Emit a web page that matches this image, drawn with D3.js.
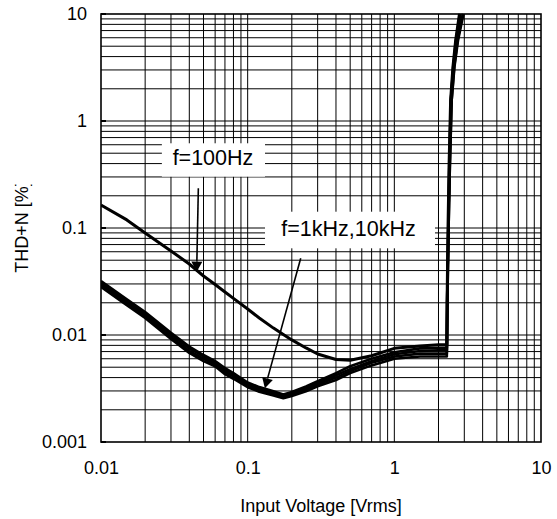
<!DOCTYPE html>
<html>
<head>
<meta charset="utf-8">
<script src="https://cdn.jsdelivr.net/npm/d3@7"></script>
<style>
  body { margin: 0; background: #fff; }
  svg { display: block; }
  text { font-family: "Liberation Sans", Arial, sans-serif; fill: #000; }
</style>
</head>
<body>
<svg id="chart" width="557" height="519"></svg>
<script>
// Input voltage (Vrms) for the low-level part of every sweep
const voltage = [0.01, 0.015, 0.02, 0.03, 0.04, 0.05, 0.06, 0.07, 0.08, 0.1, 0.12, 0.15, 0.175, 0.2, 0.25, 0.3, 0.4, 0.5, 0.7, 1, 1.5, 2, 2.28];

// THD+N (%) at each voltage point
const thd100Hz  = [0.164, 0.119, 0.0898, 0.061, 0.0461, 0.0356, 0.0296, 0.0252, 0.022, 0.0175, 0.0144, 0.0116, 0.0101, 0.009, 0.00757, 0.00664, 0.0059, 0.0058, 0.0064, 0.0075, 0.0079, 0.0081, 0.0081];
const thd1kHzA  = [0.032, 0.0216, 0.0164, 0.0105, 0.0078, 0.0065, 0.0057, 0.0049, 0.0044, 0.0036, 0.00326, 0.00298, 0.00278, 0.00294, 0.0033, 0.0037, 0.0044, 0.0051, 0.006, 0.0069, 0.0075, 0.0076, 0.0076];
const thd1kHzB  = [0.0307, 0.0207, 0.0157, 0.0101, 0.0075, 0.0063, 0.0055, 0.0047, 0.0042, 0.00348, 0.00316, 0.0029, 0.0027, 0.00286, 0.0032, 0.00357, 0.0042, 0.0048, 0.0057, 0.0066, 0.0071, 0.0072, 0.0072];
const thd10kHzA = [0.0294, 0.0199, 0.0151, 0.0096, 0.0071, 0.006, 0.0053, 0.0045, 0.0041, 0.00336, 0.00305, 0.0028, 0.00262, 0.00277, 0.00308, 0.00344, 0.004, 0.0046, 0.0055, 0.0063, 0.0067, 0.0067, 0.0067];
const thd10kHzB = [0.0282, 0.019, 0.0144, 0.0092, 0.0068, 0.0057, 0.0051, 0.0043, 0.0039, 0.00325, 0.00295, 0.00272, 0.00256, 0.00269, 0.00298, 0.00332, 0.0038, 0.0044, 0.0052, 0.006, 0.0063, 0.0063, 0.0063];

// Clipping region: THD+N levels and the voltages where each sweep reaches them
const riseThd      = [0.02, 0.09, 0.37, 1.57, 3.2, 5.7, 10];
const riseV100Hz   = [2.29, 2.32, 2.36, 2.42, 2.51, 2.62, 2.78, 3.17];
const riseV1kHzA   = [2.29, 2.33, 2.37, 2.43, 2.52, 2.63, 2.80, 3.20];
const riseV1kHzB   = [2.29, 2.33, 2.37, 2.43, 2.53, 2.65, 2.83, 3.23];
const riseV10kHzA  = [2.30, 2.34, 2.39, 2.46, 2.56, 2.70, 2.93, 3.43];
const riseV10kHzB  = [2.30, 2.34, 2.39, 2.46, 2.57, 2.72, 2.96, 3.47];

const xTicks = [0.01, 0.1, 1, 10];
const xTickLabels = ["0.01", "0.1", "1", "10"];
const yTicks = [0.001, 0.01, 0.1, 1, 10];
const yTickLabels = ["0.001", "0.01", "0.1", "1", "10"];

const xTitle = "Input Voltage [Vrms]";
const yTitle = "THD+N [%]";

// Annotations: label text, centre voltage and baseline level, box corners, arrow start and tip
const labels = ["f=100Hz", "f=1kHz,10kHz"];
const labelX = [0.058, 0.487];
const labelY = [0.388, 0.0841];
const boxX0 = [0.026, 0.1313], boxX1 = [0.1313, 1.893];
const boxY0 = [0.619, 0.142], boxY1 = [0.3015, 0.0646];
const arrowFromX = [0.0461, 0.23], arrowFromY = [0.235, 0.0521];
const arrowToX = [0.0449, 0.131], arrowToY = [0.0391, 0.00318];

const svg = d3.select("#chart");
const plotL = 101, plotR = 541, plotT = 14, plotB = 442;

const x = d3.scaleLog().domain([0.01, 10]).range([plotL, plotR]);
const y = d3.scaleLog().domain([0.001, 10]).range([plotB, plotT]);

// Grid: every 1..9 step within each decade
const xGrid = [], yGrid = [];
[0.01, 0.1, 1].forEach(d => { for (let k = 2; k <= 9; k++) xGrid.push(d * k); });
[0.001, 0.01, 0.1, 1].forEach(d => { for (let k = 2; k <= 9; k++) yGrid.push(d * k); });

const grid = svg.append("g");
grid.selectAll("line.gx").data(xGrid.concat(xTicks.slice(1, -1))).join("line")
  .attr("class", "gx")
  .attr("x1", d => x(d)).attr("x2", d => x(d))
  .attr("y1", plotT).attr("y2", plotB)
  .attr("stroke", "#000").attr("stroke-width", 1);
grid.selectAll("line.gy").data(yGrid.concat(yTicks.slice(1, -1))).join("line")
  .attr("class", "gy")
  .attr("x1", plotL).attr("x2", plotR)
  .attr("y1", d => y(d)).attr("y2", d => y(d))
  .attr("stroke", "#000").attr("stroke-width", 1);

// White label boxes sit over the grid
svg.selectAll("rect.box").data(labels).join("rect")
  .attr("class", "box")
  .attr("x", (d, i) => x(boxX0[i]))
  .attr("y", (d, i) => y(boxY0[i]))
  .attr("width", (d, i) => x(boxX1[i]) - x(boxX0[i]))
  .attr("height", (d, i) => y(boxY1[i]) - y(boxY0[i]))
  .attr("fill", "#fff");

// Small inward ticks at each decade on the left edge
svg.selectAll("line.ytick").data(yTicks).join("line")
  .attr("class", "ytick")
  .attr("x1", plotL).attr("x2", plotL + 5)
  .attr("y1", d => y(d)).attr("y2", d => y(d))
  .attr("stroke", "#000").attr("stroke-width", 2);

// Plot frame
svg.append("rect")
  .attr("x", plotL).attr("y", plotT)
  .attr("width", plotR - plotL).attr("height", plotB - plotT)
  .attr("fill", "none").attr("stroke", "#000").attr("stroke-width", 1.6);

// Curves
svg.append("clipPath").attr("id", "plotClip")
  .append("rect").attr("x", plotL).attr("y", plotT - 1)
  .attr("width", plotR - plotL).attr("height", plotB - plotT + 1);

const sweeps = [
  { thd: thd10kHzB, rise: riseV10kHzB, w: 2.6 },
  { thd: thd10kHzA, rise: riseV10kHzA, w: 2.6 },
  { thd: thd1kHzB,  rise: riseV1kHzB,  w: 2.6 },
  { thd: thd1kHzA,  rise: riseV1kHzA,  w: 2.6 },
  { thd: thd100Hz,  rise: riseV100Hz,  w: 3 }
];
const lineGen = d3.line().x(d => x(d[0])).y(d => y(d[1]));
const curves = svg.append("g").attr("clip-path", "url(#plotClip)");
sweeps.forEach(s => {
  const pts = voltage.map((v, i) => [v, s.thd[i]])
    .concat(riseThd.map((t, i) => [s.rise[i], t]));
  curves.append("path")
    .attr("d", lineGen(pts))
    .attr("fill", "none").attr("stroke", "#000")
    .attr("stroke-width", s.w).attr("stroke-linejoin", "round");
});

// Axes
const fs = 18;
const yAxis = svg.append("g").attr("transform", `translate(${plotL},0)`)
  .call(d3.axisLeft(y).tickValues(yTicks).tickFormat((d, i) => yTickLabels[i]).tickSize(0).tickPadding(14));
yAxis.select(".domain").remove();
yAxis.selectAll("text").attr("font-size", fs).attr("font-family", "Liberation Sans, Arial, sans-serif");

const xAxis = svg.append("g").attr("transform", `translate(0,${plotB})`)
  .call(d3.axisBottom(x).tickValues(xTicks).tickFormat((d, i) => xTickLabels[i]).tickSize(0).tickPadding(19.5));
xAxis.select(".domain").remove();
xAxis.selectAll("text").attr("font-size", fs).attr("font-family", "Liberation Sans, Arial, sans-serif");

// Axis titles
svg.append("text")
  .attr("x", (plotL + plotR) / 2).attr("y", 512)
  .attr("text-anchor", "middle").attr("font-size", fs)
  .text(xTitle);

// The vertical title runs past its frame at the top, so its end is cut off
svg.append("clipPath").attr("id", "yTitleClip")
  .append("rect").attr("x", 0).attr("y", 184.5).attr("width", 60).attr("height", 334);
svg.append("g").attr("clip-path", "url(#yTitleClip)")
  .append("text")
  .attr("transform", "translate(28,227) rotate(-90)")
  .attr("text-anchor", "middle").attr("font-size", fs)
  .text(yTitle);

// Annotation labels and arrows
svg.selectAll("text.note").data(labels).join("text")
  .attr("class", "note")
  .attr("x", (d, i) => x(labelX[i])).attr("y", (d, i) => y(labelY[i]))
  .attr("text-anchor", "middle").attr("font-size", 21.5)
  .text(d => d);

labels.forEach((d, i) => {
  const x0 = x(arrowFromX[i]), y0 = y(arrowFromY[i]);
  const x1 = x(arrowToX[i]), y1 = y(arrowToY[i]);
  const len = Math.hypot(x1 - x0, y1 - y0);
  const ux = (x1 - x0) / len, uy = (y1 - y0) / len;
  const hl = 10, hw = 5.5;
  const bx = x1 - ux * hl, by = y1 - uy * hl;
  svg.append("line")
    .attr("x1", x0).attr("y1", y0).attr("x2", bx).attr("y2", by)
    .attr("stroke", "#000").attr("stroke-width", 1.6);
  svg.append("path")
    .attr("d", `M${x1},${y1}L${bx - uy * hw},${by + ux * hw}L${bx + uy * hw},${by - ux * hw}Z`)
    .attr("fill", "#000");
});
</script>
</body>
</html>
